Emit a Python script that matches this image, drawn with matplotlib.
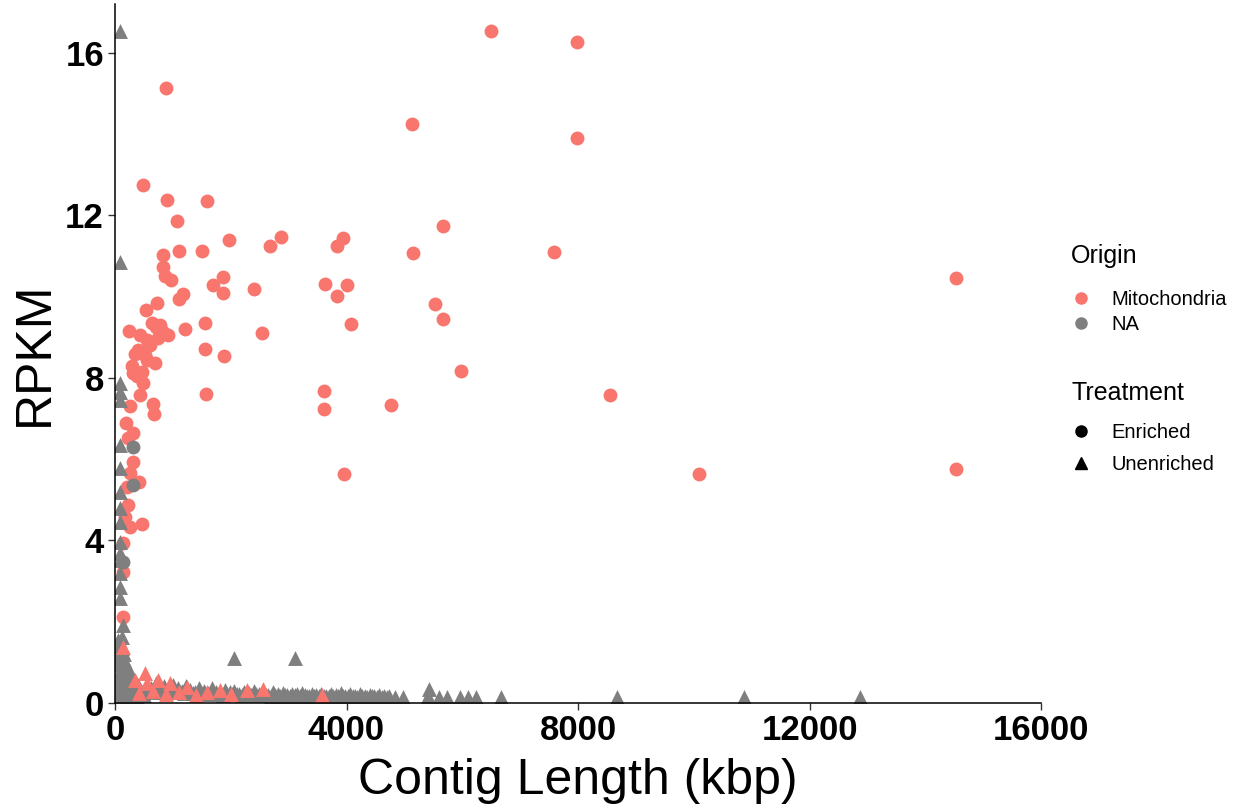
import matplotlib
matplotlib.use("Agg")
import matplotlib.pyplot as plt
from matplotlib.lines import Line2D

# ---------------- data ----------------
# Mitochondria / Enriched (circles)
mito_enr_x = [6497, 7983, 881, 5132, 7983, 484, 898, 1590, 1071, 5668,
              2869, 3940, 1970, 3836, 2678, 5150, 7586, 829, 1106, 1503,
              829, 864, 968, 1693, 1866, 1866, 2402, 3629, 4009, 3836,
              1106, 1175, 536, 726, 4078, 5530, 5668, 14532, 242, 1210,
              1555, 2540, 1555, 1883, 639, 829, 432, 553, 397, 916,
              553, 691, 311, 467, 484, 432, 1572, 5979, 3611, 3611,
              4770, 8554, 259, 657, 674, 190, 311, 225, 311, 259,
              415, 207, 225, 467, 173, 259, 138, 138, 138, 3957,
              10092, 14532, 778, 605, 518, 380, 700, 745, 350, 300]
mito_enr_y = [16.54, 16.27, 15.14, 14.25, 13.91, 12.75, 12.38, 12.36, 11.86, 11.74,
              11.47, 11.44, 11.40, 11.25, 11.25, 11.07, 11.10, 11.03, 11.12, 11.12,
              10.73, 10.51, 10.41, 10.29, 10.49, 10.09, 10.19, 10.31, 10.29, 10.02,
              9.94, 10.07, 9.67, 9.84, 9.33, 9.82, 9.45, 10.46, 9.16, 9.20,
              9.35, 9.11, 8.71, 8.54, 9.35, 9.13, 9.06, 8.93, 8.69, 9.06,
              8.44, 8.37, 8.12, 8.15, 7.88, 7.58, 7.61, 8.17, 7.68, 7.24,
              7.33, 7.58, 7.31, 7.36, 7.11, 6.89, 6.65, 6.52, 5.93, 5.66,
              5.44, 5.32, 4.87, 4.41, 4.58, 4.33, 3.94, 3.22, 2.12, 5.64,
              5.64, 5.76, 9.30, 8.81, 8.57, 8.05, 9.25, 8.98, 8.60, 8.30]

# NA / Enriched (circles)
na_enr_x = [311, 311, 138]
na_enr_y = [6.30, 5.37, 3.47]

# NA / Unenriched (triangles)
na_unenr_x = [86, 86, 86, 86, 86, 86, 86, 86, 86, 86,
              86, 86, 86, 86, 86, 86, 138, 120,
              60, 90, 120, 70, 150, 100, 180, 60, 130, 210,
              80, 250, 160, 40, 300, 110, 200, 350, 70, 270,
              140, 400, 30, 220, 330, 90, 450, 180, 280, 60,
              380, 150, 500, 50, 100, 160, 230, 40, 90, 130,
              190, 260, 320, 420, 480,
              550, 620, 700, 780, 850, 920, 1000, 1080, 1150, 1230,
              1300, 1380, 1450, 1530, 1600, 1680, 1750, 1830, 1900, 1980,
              2060, 2150, 2230, 2310, 2400, 2480, 2560, 2650, 2730, 2810,
              2900, 2980, 3060, 3150, 3230, 3320, 3400, 3480,
              3560, 3650, 3730, 3820, 3900, 3980, 4060, 4150, 4230, 4320,
              4400, 4480, 4570, 4650, 4740, 4830,
              590, 660, 740, 815, 885, 960, 1040, 1115, 1190, 1265,
              1340, 1415, 1490, 1565, 1640, 1715, 1790, 1865, 1940, 2020,
              2105, 2190, 2270, 2355, 2440, 2520, 2605, 2690, 2770, 2855,
              2940, 3020, 3105, 3190, 3275, 3360, 3440, 3520, 3605, 3690,
              3775, 3860, 3940, 4020, 4105, 4190, 4275, 4360, 4440, 4525,
              4610, 4695,
              4977, 5426, 5400, 5599, 5737, 5962, 6100, 6238, 6670, 8675,
              10869, 12874, 2056, 3110]
na_unenr_y = [16.54, 10.85, 7.88, 7.65, 7.46, 6.35, 5.78, 5.19, 4.80, 4.45,
              3.96, 3.70, 3.52, 3.20, 2.86, 2.58, 1.92, 1.62,
              1.55, 1.45, 1.35, 1.25, 1.20, 1.10, 1.00, 0.95, 0.90, 0.85,
              0.80, 0.75, 0.70, 0.65, 0.65, 0.60, 0.55, 0.55, 0.50, 0.45,
              0.40, 0.45, 0.35, 0.35, 0.30, 0.25, 0.30, 0.20, 0.15, 0.14,
              0.14, 0.14, 0.20, 1.40, 1.30, 1.05, 0.85, 1.15, 0.70, 0.60,
              0.50, 0.40, 0.35, 0.35, 0.30,
              0.45, 0.38, 0.50, 0.34, 0.42, 0.30, 0.45, 0.38, 0.30, 0.42,
              0.33, 0.26, 0.38, 0.30, 0.24, 0.36, 0.28, 0.22, 0.32, 0.26,
              0.30, 0.22, 0.28, 0.24, 0.30, 0.22, 0.26, 0.20, 0.27, 0.22,
              0.24, 0.19, 0.23, 0.21, 0.25, 0.18, 0.22, 0.20,
              0.23, 0.18, 0.22, 0.19, 0.24, 0.17, 0.22, 0.18, 0.21, 0.17,
              0.20, 0.16, 0.19, 0.17, 0.18, 0.15,
              0.32, 0.28, 0.35, 0.27, 0.30, 0.26, 0.31, 0.27, 0.25, 0.29,
              0.24, 0.23, 0.26, 0.22, 0.21, 0.24, 0.21, 0.20, 0.23, 0.21,
              0.22, 0.20, 0.21, 0.19, 0.22, 0.19, 0.20, 0.18, 0.20, 0.18,
              0.19, 0.17, 0.19, 0.18, 0.19, 0.17, 0.18, 0.17, 0.18, 0.16,
              0.18, 0.16, 0.17, 0.16, 0.17, 0.15, 0.16, 0.15, 0.16, 0.15,
              0.15, 0.15,
              0.15, 0.34, 0.16, 0.15, 0.15, 0.15, 0.15, 0.15, 0.15, 0.15,
              0.15, 0.15, 1.11, 1.11]

# Mitochondria / Unenriched (triangles)
mito_unenr_x = [518, 743, 950, 1244, 1590, 1814, 2281, 2557, 3577, 346,
                553, 138, 420, 650, 880, 1400, 2000, 1100]
mito_unenr_y = [0.74, 0.57, 0.49, 0.39, 0.27, 0.32, 0.32, 0.34, 0.20, 0.57,
                0.49, 1.38, 0.25, 0.30, 0.22, 0.20, 0.22, 0.28]

origin_labels = ["Mitochondria", "NA"]
treatment_labels = ["Enriched", "Unenriched"]
x_ticks = [0, 4000, 8000, 12000, 16000]
y_ticks = [0, 4, 8, 12, 16]

# ---------------- style ----------------
C_MITO = "#F8766D"
C_NA = "#7F7F7F"
plt.rcParams["font.family"] = ["Liberation Sans", "DejaVu Sans"]

fig = plt.figure(figsize=(12.42, 8.06), dpi=100)
ax = fig.add_axes([115 / 1242, 103 / 806, 926 / 1242, 699 / 806])

S_CIRC = 100
S_TRI = 115
ax.scatter(mito_enr_x, mito_enr_y, s=S_CIRC, marker="o", color=C_MITO,
           linewidths=0, zorder=2)
ax.scatter(na_enr_x, na_enr_y, s=S_CIRC, marker="o", color=C_NA,
           linewidths=0, zorder=3)
ax.scatter(na_unenr_x, na_unenr_y, s=S_TRI, marker="^", color=C_NA,
           linewidths=0, zorder=4)
ax.scatter(mito_unenr_x, mito_unenr_y, s=S_TRI, marker="^", color=C_MITO,
           linewidths=0, zorder=5)

ax.set_xlim(0, 16000)
ax.set_ylim(0, 17.2)
ax.set_xticks(x_ticks)
ax.set_yticks(y_ticks)
ax.set_xticklabels([str(t) for t in x_ticks], fontsize=25, fontweight="bold")
ax.set_yticklabels([str(t) for t in y_ticks], fontsize=25, fontweight="bold")
ax.tick_params(axis="both", length=5, width=1, color="#333333", pad=3)
for side in ["top", "right"]:
    ax.spines[side].set_visible(False)
for side in ["left", "bottom"]:
    ax.spines[side].set_linewidth(1.1)
    ax.spines[side].set_color("black")
    ax.spines[side].set_zorder(6)

ax.set_xlabel("Contig Length (kbp)", fontsize=36, labelpad=8)
ax.set_ylabel("RPKM", fontsize=36, labelpad=5)

# ---------------- legends ----------------
h_origin = [Line2D([], [], marker="o", linestyle="", color=C_MITO, markersize=8),
            Line2D([], [], marker="o", linestyle="", color=C_NA, markersize=8)]
h_treat = [Line2D([], [], marker="o", linestyle="", color="black", markersize=8),
           Line2D([], [], marker="^", linestyle="", color="black", markersize=9)]

leg1 = fig.legend(h_origin, origin_labels, title="Origin", loc="upper left",
                  bbox_to_anchor=(1053 / 1242, 1 - 226 / 806), frameon=False,
                  fontsize=14.5, title_fontsize=18, handlelength=1.0,
                  handletextpad=1.0, labelspacing=0.3, alignment="left")
leg2 = fig.legend(h_treat, treatment_labels, title="Treatment", loc="upper left",
                  bbox_to_anchor=(1053 / 1242, 1 - 363 / 806), frameon=False,
                  fontsize=14.5, title_fontsize=18, handlelength=1.0,
                  handletextpad=1.0, labelspacing=0.65, alignment="left")
leg1._legend_box.sep = 16
leg2._legend_box.sep = 13

fig.savefig("out.png", dpi=100, facecolor="white")
